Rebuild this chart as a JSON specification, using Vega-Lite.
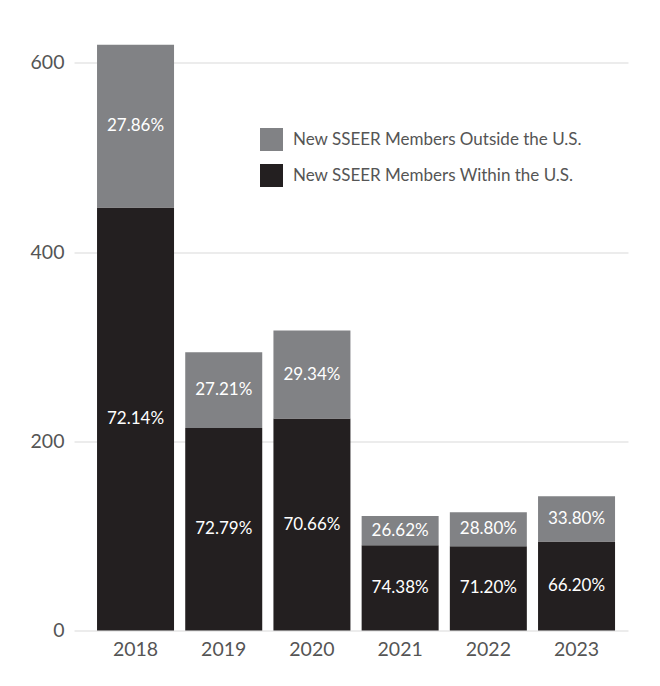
{
  "$schema": "https://vega.github.io/schema/vega-lite/v6.json",
  "width": 554,
  "height": 615,
  "autosize": {"type": "none"},
  "padding": {"left": 74, "top": 15.5, "right": 32, "bottom": 55.5},
  "background": "white",
  "config": {"view": {"stroke": null}, "font": "Lato"},
  "data": {"values": [
    {"year": "2018", "group": "New SSEER Members Within the U.S.", "members": 447, "pct": "72.14%"},
    {"year": "2018", "group": "New SSEER Members Outside the U.S.", "members": 172, "pct": "27.86%"},
    {"year": "2019", "group": "New SSEER Members Within the U.S.", "members": 214, "pct": "72.79%"},
    {"year": "2019", "group": "New SSEER Members Outside the U.S.", "members": 80, "pct": "27.21%"},
    {"year": "2020", "group": "New SSEER Members Within the U.S.", "members": 224, "pct": "70.66%"},
    {"year": "2020", "group": "New SSEER Members Outside the U.S.", "members": 93, "pct": "29.34%"},
    {"year": "2021", "group": "New SSEER Members Within the U.S.", "members": 90, "pct": "74.38%"},
    {"year": "2021", "group": "New SSEER Members Outside the U.S.", "members": 31, "pct": "26.62%"},
    {"year": "2022", "group": "New SSEER Members Within the U.S.", "members": 89, "pct": "71.20%"},
    {"year": "2022", "group": "New SSEER Members Outside the U.S.", "members": 36, "pct": "28.80%"},
    {"year": "2023", "group": "New SSEER Members Within the U.S.", "members": 94, "pct": "66.20%"},
    {"year": "2023", "group": "New SSEER Members Outside the U.S.", "members": 48, "pct": "33.80%"}
  ]},
  "transform": [
    {"stack": "members", "groupby": ["year"], "sort": [{"field": "group", "order": "descending"}], "as": ["y0", "y1"]},
    {"calculate": "(datum.y0 + datum.y1) / 2", "as": "ymid"}
  ],
  "layer": [
    {
      "mark": {"type": "bar"},
      "encoding": {
        "x": {
          "field": "year", "type": "ordinal",
          "scale": {"paddingInner": 0.127, "paddingOuter": 0.204, "align": 0.64},
          "axis": {"title": null, "domain": false, "ticks": false, "tickSize": 0, "labelAngle": 0, "labelFontSize": 19.5, "labelColor": "#555555", "labelPadding": 10}
        },
        "y": {
          "field": "y0", "type": "quantitative",
          "scale": {"domain": [0, 650], "nice": false},
          "axis": {"title": null, "values": [0, 200, 400, 600], "domain": false, "ticks": false, "tickSize": 0, "labelFontSize": 19.5, "labelColor": "#555555", "labelPadding": 10, "gridColor": "#e6e6e6", "gridWidth": 1.5}
        },
        "y2": {"field": "y1"},
        "color": {
          "field": "group", "type": "nominal",
          "scale": {"domain": ["New SSEER Members Outside the U.S.", "New SSEER Members Within the U.S."], "range": ["#818285", "#231f20"]},
          "legend": {"title": null, "orient": "none", "legendX": 186, "legendY": 112.5, "symbolType": "square", "symbolSize": 529, "symbolOpacity": 1, "symbolStrokeWidth": 0, "labelFontSize": 17, "labelColor": "#555555", "labelOffset": 10, "labelLimit": 0, "rowPadding": 13, "padding": 0}
        }
      }
    },
    {
      "mark": {"type": "text", "color": "white", "fontSize": 17},
      "encoding": {
        "x": {"field": "year", "type": "ordinal"},
        "y": {"field": "ymid", "type": "quantitative"},
        "text": {"field": "pct"}
      }
    }
  ]
}
